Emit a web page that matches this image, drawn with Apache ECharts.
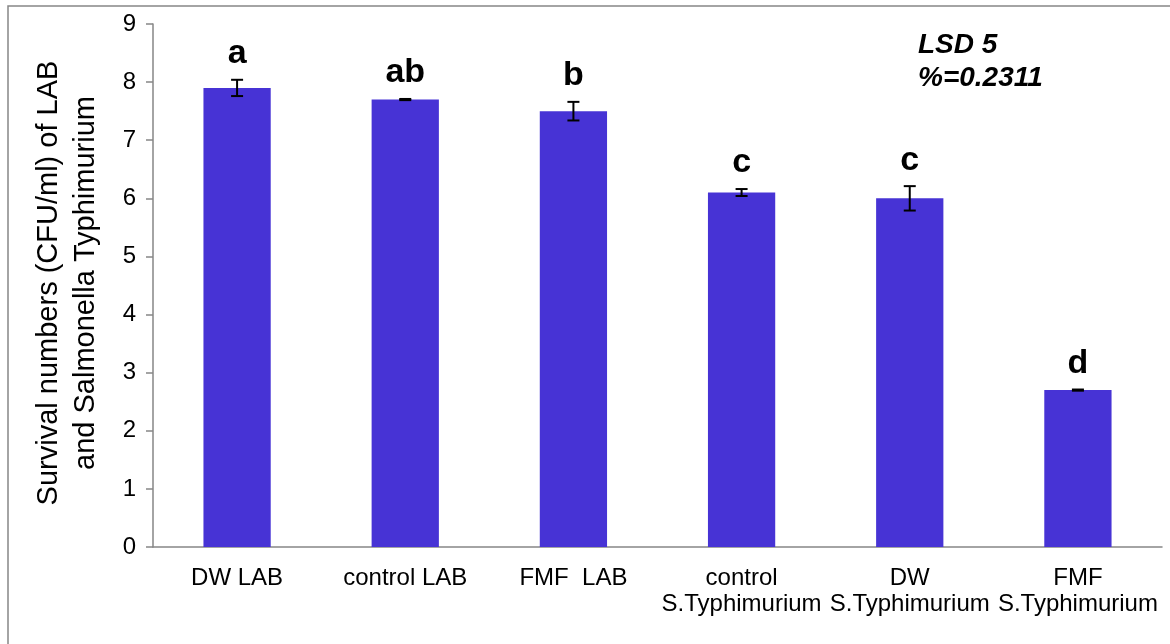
<!DOCTYPE html>
<html>
<head>
<meta charset="utf-8">
<script src="https://cdn.jsdelivr.net/npm/echarts@6/dist/echarts.min.js"></script>
<style>
  html, body { margin: 0; padding: 0; background: #fff; }
  #chart { width: 1170px; height: 644px; }
</style>
</head>
<body>
<div id="chart"></div>
<script>
// 数据
var categories = ['DW LAB', 'control LAB', 'FMF  LAB', 'control\nS.Typhimurium', 'DW\nS.Typhimurium', 'FMF\nS.Typhimurium'];
var means = [7.9, 7.7, 7.5, 6.1, 6.0, 2.7];
var errors = [0.14, 0.01, 0.16, 0.06, 0.21, 0.01];
var letters = ['a', 'ab', 'b', 'c', 'c', 'd'];
var yTicks = [0, 9, 1]; // min, max, interval

var myChart = echarts.init(document.getElementById('chart'));

var errData = means.map(function (m, i) {
    return [i, m - errors[i], m + errors[i]];
});

var option = {
    animation: false,
    grid: { left: 153, right: 8, top: 24, bottom: 97 },
    xAxis: {
        type: 'category',
        data: categories,
        axisLine: { lineStyle: { color: '#868686', width: 1.5 } },
        axisTick: { alignWithLabel: true, length: 7, lineStyle: { color: '#868686', width: 1.5 } },
        axisLabel: {
            color: '#000',
            fontFamily: 'Liberation Sans',
            fontSize: 24,
            lineHeight: 26,
            margin: 18,
            interval: 0
        }
    },
    yAxis: {
        type: 'value',
        min: yTicks[0],
        max: yTicks[1],
        interval: yTicks[2],
        splitLine: { show: false },
        axisLine: { show: true, lineStyle: { color: '#868686', width: 1.5 } },
        axisTick: { show: true, length: 7, lineStyle: { color: '#868686', width: 1.5 } },
        axisLabel: { color: '#000', fontFamily: 'Liberation Sans', fontSize: 24, margin: 17 }
    },
    graphic: [
        {
            type: 'rect',
            shape: { x: 8, y: 6, width: 1300, height: 800 },
            style: { fill: 'none', stroke: '#868686', lineWidth: 1.5 },
            silent: true
        },
        {
            type: 'text',
            x: 67,
            y: 283,
            rotation: Math.PI / 2,
            style: {
                text: 'Survival numbers (CFU/ml) of LAB\nand Salmonella Typhimurium',
                align: 'center',
                verticalAlign: 'middle',
                lineHeight: 37,
                font: '29px "Liberation Sans"',
                fill: '#000'
            }
        },
        {
            type: 'text',
            left: 918,
            top: 29,
            style: {
                text: 'LSD 5\n%=0.2311',
                lineHeight: 33,
                font: 'italic bold 28px "Liberation Sans"',
                fill: '#000'
            }
        }
    ],
    series: [
        {
            type: 'bar',
            data: means,
            barWidth: '40%',
            itemStyle: { color: '#4733d5' }
        },
        {
            type: 'custom',
            data: errData,
            z: 10,
            renderItem: function (params, api) {
                var x = api.coord([api.value(0), 0])[0];
                var lo = api.coord([api.value(0), api.value(1)])[1];
                var hi = api.coord([api.value(0), api.value(2)])[1];
                var half = 6;
                var st = { stroke: '#000', lineWidth: 2 };
                return {
                    type: 'group',
                    children: [
                        { type: 'line', shape: { x1: x, y1: hi, x2: x, y2: lo }, style: st },
                        { type: 'line', shape: { x1: x - half, y1: hi, x2: x + half, y2: hi }, style: st },
                        { type: 'line', shape: { x1: x - half, y1: lo, x2: x + half, y2: lo }, style: st },
                        {
                            type: 'text',
                            style: {
                                text: letters[params.dataIndex],
                                x: x,
                                y: hi - 26,
                                align: 'center',
                                verticalAlign: 'middle',
                                font: 'bold 34px "Liberation Sans"',
                                fill: '#000'
                            }
                        }
                    ]
                };
            }
        }
    ]
};

myChart.setOption(option);
</script>
</body>
</html>
